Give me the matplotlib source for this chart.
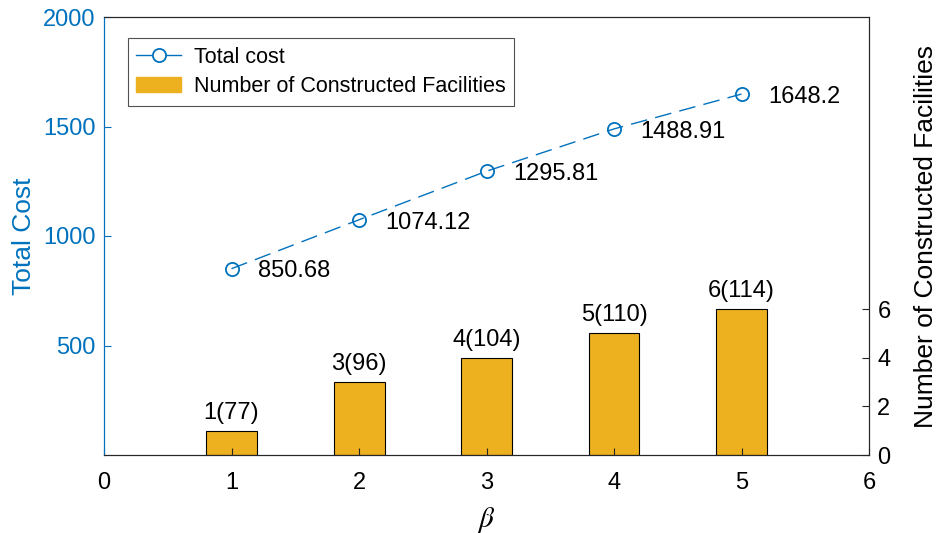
import matplotlib
matplotlib.use("Agg")
import matplotlib.pyplot as plt
from matplotlib.lines import Line2D
from matplotlib.patches import Patch

plt.rcParams['font.family'] = ['Liberation Sans', 'DejaVu Sans']
plt.rcParams['mathtext.fontset'] = 'stix'

beta = [1, 2, 3, 4, 5]
total_cost = [850.68, 1074.12, 1295.81, 1488.91, 1648.2]
facilities = [1, 3, 4, 5, 6]
facility_labels = ['1(77)', '3(96)', '4(104)', '5(110)', '6(114)']
x_ticks = [0, 1, 2, 3, 4, 5, 6]
cost_ticks = [500, 1000, 1500, 2000]
fac_ticks = [0, 2, 4, 6]

blue = '#0072BD'
gold = '#EDB120'
dark = '#262626'
fs = 17
lfs = 19

fig = plt.figure(figsize=(9.37, 5.33), dpi=100)
ax = fig.add_axes([104 / 937, 1 - 455 / 533, (869 - 104) / 937, (455 - 17) / 533])
ax2 = ax.twinx()

# bars on right axis
ax2.bar(beta, facilities, width=0.4, color=gold, edgecolor='black', linewidth=0.8, zorder=2)
for x, v, lab in zip(beta, facilities, facility_labels):
    ax2.annotate(lab, (x, v), xytext=(0, 5), textcoords='offset points',
                 ha='center', va='bottom', fontsize=fs, color='black')
ax2.set_ylim(0, 18)
ax2.set_yticks(fac_ticks)
ax2.set_ylabel('Number of Constructed Facilities', fontsize=lfs, color='black')
ax2.yaxis.set_label_coords(1.059, 0.5)
ax2.tick_params(axis='y', direction='in', length=5, colors=dark, labelsize=fs,
                labelcolor='black', pad=6)

# cost line on left axis, drawn above bars
ax.set_zorder(ax2.get_zorder() + 1)
ax.patch.set_visible(False)
line_style = dict(linestyle=(0, (12, 6)), color=blue, linewidth=1.0,
                  marker='o', markersize=9.5, markerfacecolor='none',
                  markeredgecolor=blue, markeredgewidth=1.3)
ax.plot(beta, total_cost, **line_style)
for x, v in zip(beta, total_cost):
    ax.annotate(f'{v:g}', (x, v), xytext=(19, -2), textcoords='offset points',
                ha='left', va='center', fontsize=fs, color='black')
ax.set_xlim(0, 6)
ax.set_xticks(x_ticks)
ax.set_ylim(0, 2000)
ax.set_yticks(cost_ticks)
ax.set_ylabel('Total Cost', fontsize=lfs, color=blue)
ax.yaxis.set_label_coords(-0.089, 0.5)
ax.set_xlabel(r'$\beta$', fontsize=lfs + 2, labelpad=8)
ax.tick_params(axis='y', direction='in', length=5, colors=blue, labelsize=fs, pad=6)
ax.tick_params(axis='x', direction='in', length=5, colors=dark, labelsize=fs,
               labelcolor='black', pad=12)

for a in (ax, ax2):
    for s in a.spines.values():
        s.set_linewidth(0.8)
        s.set_color(dark)
ax.spines['left'].set_color(blue)
ax2.spines['left'].set_color(blue)

handles = [Line2D([], [], color=blue, linewidth=1.0, marker='o', markersize=9.5,
                  markerfacecolor='white', markeredgecolor=blue, markeredgewidth=1.3),
           Patch(facecolor=gold, edgecolor=gold)]
leg = ax.legend(handles, ['Total cost', 'Number of Constructed Facilities'],
                loc='upper left', bbox_to_anchor=(0.031, 0.952), fontsize=15.5,
                frameon=True, fancybox=False, edgecolor=dark, handlelength=2.07,
                borderpad=0.4, labelspacing=0.4, handletextpad=0.6, borderaxespad=0)
leg.get_frame().set_linewidth(0.8)

fig.savefig('out.png', dpi=100)
